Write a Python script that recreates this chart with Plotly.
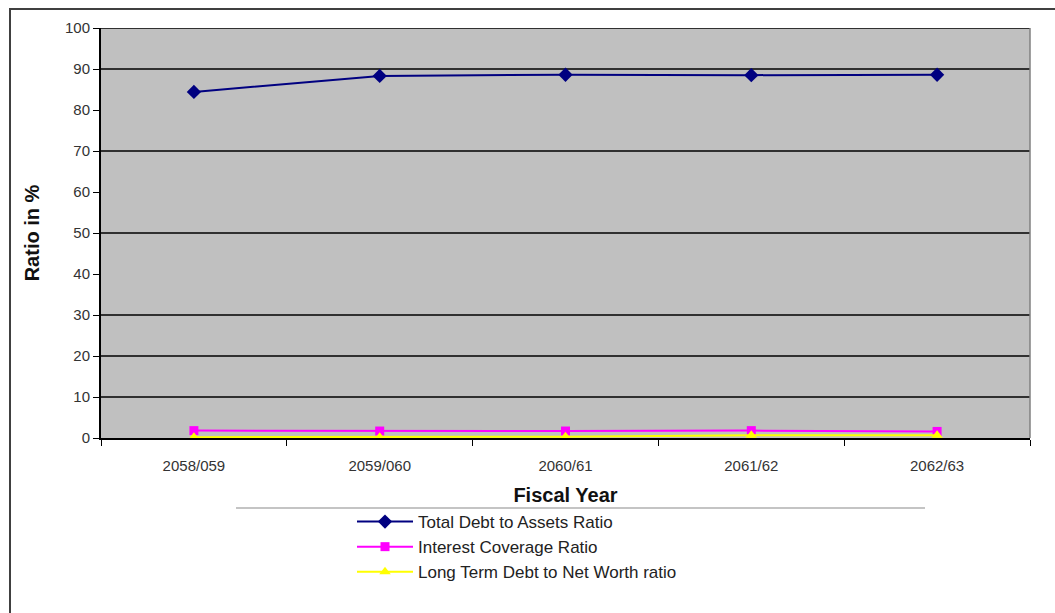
import plotly.graph_objects as go

years = ["2058/059", "2059/060", "2060/61", "2061/62", "2062/63"]
total_debt_to_assets = [84.4, 88.3, 88.6, 88.5, 88.6]
interest_coverage = [1.8, 1.7, 1.7, 1.8, 1.6]
lt_debt_to_net_worth = [0.2, 0.2, 0.3, 0.7, 0.7]
y_ticks = [0, 10, 20, 30, 40, 50, 60, 70, 80, 90, 100]
grid_values = [10, 20, 30, 50, 70, 90, 100]

L, R, T, B = 101, 25, 28, 175
W, H = 1055, 613
pw, ph = W - L - R, H - T - B

def px_x(p):
    return (p - L) / pw

def px_y(p):
    return (H - B - p) / ph

fig = go.Figure()
fig.add_trace(go.Scatter(x=years, y=total_debt_to_assets, mode="lines+markers",
                         name="Total Debt to Assets Ratio",
                         line=dict(color="#000080", width=2),
                         marker=dict(symbol="diamond", size=11, color="#000080")))
fig.add_trace(go.Scatter(x=years, y=interest_coverage, mode="lines+markers",
                         name="Interest Coverage Ratio",
                         line=dict(color="#FF00FF", width=2),
                         marker=dict(symbol="square", size=9, color="#FF00FF")))
fig.add_trace(go.Scatter(x=years, y=lt_debt_to_net_worth, mode="lines+markers",
                         name="Long Term Debt to Net Worth ratio",
                         line=dict(color="#FFFF00", width=2),
                         marker=dict(symbol="triangle-up", size=10, color="#FFFF00")))

shapes = []
for g in grid_values:
    shapes.append(dict(type="line", xref="paper", yref="y", x0=0, x1=1, y0=g, y1=g,
                       line=dict(color="black", width=1.5), layer="below"))
# right border of plot area
shapes.append(dict(type="line", xref="paper", yref="paper", x0=1, x1=1, y0=0, y1=1,
                   line=dict(color="#808080", width=1.5)))
# outer chart border
shapes.append(dict(type="rect", xref="paper", yref="paper",
                   x0=px_x(10), x1=px_x(1065), y0=px_y(640), y1=px_y(9),
                   line=dict(color="#404040", width=2)))
# legend top border
shapes.append(dict(type="line", xref="paper", yref="paper",
                   x0=px_x(236), x1=px_x(925), y0=px_y(508), y1=px_y(508),
                   line=dict(color="#B0B0B0", width=1.5)))

fig.update_layout(
    template="none",
    width=W, height=H,
    margin=dict(l=L, r=R, t=T, b=B),
    paper_bgcolor="white",
    plot_bgcolor="#C0C0C0",
    font=dict(family="Arial, Liberation Sans, sans-serif", color="#222"),
    showlegend=True,
    legend=dict(x=px_x(352), y=px_y(504), xanchor="left", yanchor="top",
                font=dict(size=17, color="#222"), bgcolor="rgba(0,0,0,0)",
                itemwidth=56, tracegroupgap=2),
    shapes=shapes,
    xaxis=dict(type="category", range=[-0.5, 4.5], tickson="boundaries",
               ticks="outside", ticklen=6, tickcolor="black",
               showline=True, linecolor="black", linewidth=2, showgrid=False,
               zeroline=False, ticklabelstandoff=13,
               tickfont=dict(size=15, color="#333"),
               title=dict(text="<b>Fiscal Year</b>", font=dict(size=20, color="#111"), standoff=15)),
    yaxis=dict(range=[0, 100], tickvals=y_ticks, ticks="outside", ticklen=6,
               tickcolor="black", showline=True, linecolor="black", linewidth=2,
               showgrid=False, zeroline=False,
               tickfont=dict(size=15, color="#333"),
               title=dict(text="<b>Ratio in %</b>", font=dict(size=20, color="#111"), standoff=20)),
)

fig.write_html("out.html", config={"displayModeBar": False})
with open("out.html", "r", encoding="utf-8") as f:
    html = f.read()
html = html.replace("<head>", "<head><style>html,body{margin:0;padding:0;}</style>", 1)
with open("out.html", "w", encoding="utf-8") as f:
    f.write(html)
